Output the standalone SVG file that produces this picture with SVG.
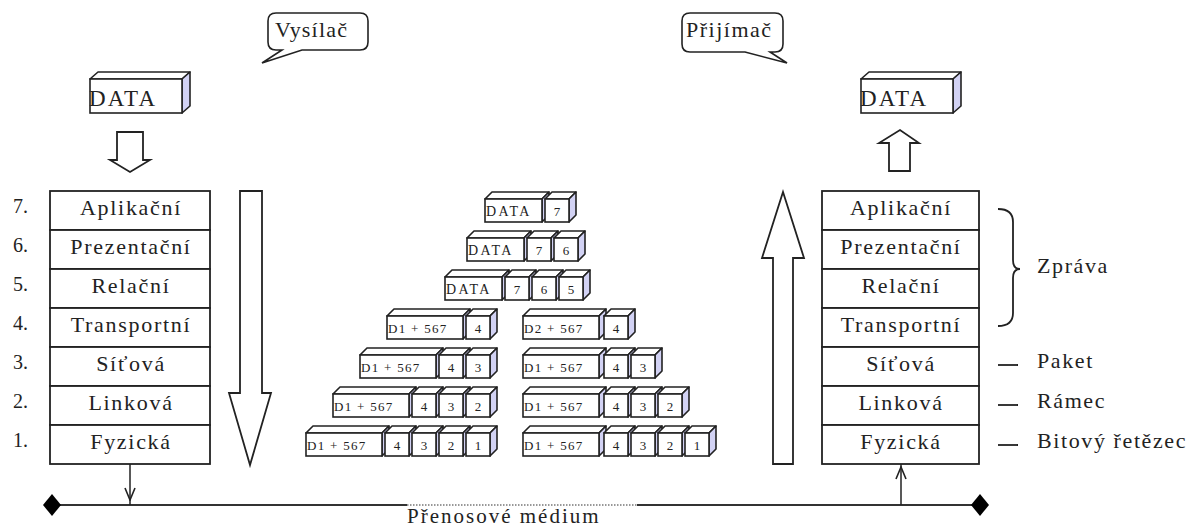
<svg xmlns="http://www.w3.org/2000/svg" xmlns:xlink="http://www.w3.org/1999/xlink" width="1200" height="529" viewBox="0 0 1200 529">
<style>
text{font-family:"Liberation Serif","Times New Roman",serif;fill:#222}
.lay{font-size:22px;letter-spacing:1.7px;text-anchor:middle}
.num{font-size:20px}
.lbl{font-size:22px;letter-spacing:1.6px}
.bx{font-size:13px;letter-spacing:1.3px}
.bn{font-size:13px;text-anchor:middle}
.dt{font-size:14px;letter-spacing:2.4px}
.box{fill:#fff;stroke:#222;stroke-width:1.6}
.side{fill:#d2d2f4;stroke:#222;stroke-width:1.6;stroke-linejoin:round}
.top{fill:#fff;stroke:#222;stroke-width:1.6;stroke-linejoin:round}
.hol{fill:#fff;stroke:#222;stroke-width:1.8;stroke-linejoin:miter}
.ln{stroke:#222;stroke-width:1.8;fill:none}
.row{fill:#fff;stroke:#222;stroke-width:1.8}
</style>
<defs>
<g id="sb"><path class="top" d="M0,0 L7,-7 L31,-7 L24,0 Z"/><path class="side" d="M24,0 L31,-7 L31,16 L24,23 Z"/><rect class="box" width="24" height="23"/></g>
<g id="db"><path class="top" d="M0,0 L7,-7 L83,-7 L76,0 Z"/><path class="side" d="M76,0 L83,-7 L83,16 L76,23 Z"/><rect class="box" width="76" height="23"/></g>
<g id="tb"><path class="top" d="M0,0 L7,-7 L64,-7 L57,0 Z"/><path class="side" d="M57,0 L64,-7 L64,16 L57,23 Z"/><rect class="box" width="57" height="23"/></g>
<g id="bb"><path class="top" d="M0,0 L8,-7 L100,-7 L92,0 Z"/><path class="side" d="M92,0 L100,-7 L100,27 L92,34 Z"/><rect class="box" width="92" height="34"/></g>
<marker id="vhead" viewBox="0 0 14 12" refX="13" refY="6" markerWidth="14" markerHeight="12" markerUnits="userSpaceOnUse" orient="auto">
<path d="M1,1 L13,6 L1,11" fill="none" stroke="#222" stroke-width="1.6"/></marker>
</defs>

<g id="bubble-vysilac">
<path d="M276,13 H360 Q368,13 368,21 V42 Q368,50 360,50 H302 L262,63 L282,50 H276 Q268,50 268,42 V21 Q268,13 276,13 Z" fill="#fff" stroke="#222" stroke-width="1.6"/>
<text x="275" y="37" style="font-size:22px;letter-spacing:1.2px">Vysílač</text>
</g>
<g id="bubble-prijimac">
<path d="M690,13 H775 Q783,13 783,21 V44 Q783,52 775,52 H770 L787,63 L745,52 H690 Q682,52 682,44 V21 Q682,13 690,13 Z" fill="#fff" stroke="#222" stroke-width="1.6"/>
<text x="686" y="37" style="font-size:22px;letter-spacing:1.5px">Přijímač</text>
</g>

<g id="data-send">
<use xlink:href="#bb" x="90" y="79"/>
<text x="89" y="106" style="font-size:23px;letter-spacing:2.2px">DATA</text>
</g>
<g id="data-recv">
<use xlink:href="#bb" x="861" y="79"/>
<text x="860" y="106" style="font-size:23px;letter-spacing:2.2px">DATA</text>
</g>

<g id="arrows">
<path class="hol" d="M117,132 H143 V160 H150 L130,172 L110,160 H117 Z"/>
<path class="hol" d="M889,171 H910 V143 H919 L900,130 L879,143 H889 Z"/>
<path class="hol" d="M240,191 H262 V393 H271 L250,465 L229,393 H240 Z"/>
<path class="hol" d="M773,464 H793 V258 H804 L783,192 L762,258 H773 Z"/>
</g>

<g id="stack-left">
<g id="l7"><rect class="row" x="50" y="191" width="160" height="39"/><text class="num" x="13" y="213">7.</text><text class="lay" x="131" y="215">Aplikační</text></g>
<g id="l6"><rect class="row" x="50" y="230" width="160" height="39"/><text class="num" x="13" y="252">6.</text><text class="lay" x="131" y="254">Prezentační</text></g>
<g id="l5"><rect class="row" x="50" y="269" width="160" height="39"/><text class="num" x="13" y="291">5.</text><text class="lay" x="131" y="293">Relační</text></g>
<g id="l4"><rect class="row" x="50" y="308" width="160" height="39"/><text class="num" x="13" y="330">4.</text><text class="lay" x="131" y="332">Transportní</text></g>
<g id="l3"><rect class="row" x="50" y="347" width="160" height="39"/><text class="num" x="13" y="369">3.</text><text class="lay" x="131" y="371">Síťová</text></g>
<g id="l2"><rect class="row" x="50" y="386" width="160" height="39"/><text class="num" x="13" y="408">2.</text><text class="lay" x="131" y="410">Linková</text></g>
<g id="l1"><rect class="row" x="50" y="425" width="160" height="39"/><text class="num" x="13" y="447">1.</text><text class="lay" x="131" y="449">Fyzická</text></g>
</g>

<g id="stack-right">
<g id="r7"><rect class="row" x="822" y="191" width="157" height="39"/><text class="lay" x="901" y="215">Aplikační</text></g>
<g id="r6"><rect class="row" x="822" y="230" width="157" height="39"/><text class="lay" x="901" y="254">Prezentační</text></g>
<g id="r5"><rect class="row" x="822" y="269" width="157" height="39"/><text class="lay" x="901" y="293">Relační</text></g>
<g id="r4"><rect class="row" x="822" y="308" width="157" height="39"/><text class="lay" x="901" y="332">Transportní</text></g>
<g id="r3"><rect class="row" x="822" y="347" width="157" height="39"/><text class="lay" x="901" y="371">Síťová</text></g>
<g id="r2"><rect class="row" x="822" y="386" width="157" height="39"/><text class="lay" x="901" y="410">Linková</text></g>
<g id="r1"><rect class="row" x="822" y="425" width="157" height="39"/><text class="lay" x="901" y="449">Fyzická</text></g>
</g>

<g id="units">
<path class="ln" d="M998,209 Q1013,209 1013,222 V260 Q1013,269 1020,269 Q1013,269 1013,278 V313 Q1013,326 998,326"/>
<text class="lbl" x="1037" y="273">Zpráva</text>
<line class="ln" x1="998" y1="365" x2="1018" y2="365"/>
<text class="lbl" x="1037" y="368">Paket</text>
<line class="ln" x1="998" y1="405" x2="1018" y2="405"/>
<text class="lbl" x="1037" y="408">Rámec</text>
<line class="ln" x1="998" y1="445" x2="1018" y2="445"/>
<text class="lbl" x="1037" y="448">Bitový řetězec</text>
</g>

<g id="pdu-r1">
<use xlink:href="#tb" x="485" y="199"/><text class="dt" x="486" y="216">DATA</text>
<use xlink:href="#sb" x="545" y="199"/><text class="bn" x="557" y="216">7</text>
</g>
<g id="pdu-r2">
<use xlink:href="#tb" x="467" y="238"/><text class="dt" x="468" y="255">DATA</text>
<use xlink:href="#sb" x="527" y="238"/><text class="bn" x="539" y="255">7</text>
<use xlink:href="#sb" x="554" y="238"/><text class="bn" x="566" y="255">6</text>
</g>
<g id="pdu-r3">
<use xlink:href="#tb" x="445" y="277"/><text class="dt" x="446" y="294">DATA</text>
<use xlink:href="#sb" x="505" y="277"/><text class="bn" x="517" y="294">7</text>
<use xlink:href="#sb" x="532" y="277"/><text class="bn" x="544" y="294">6</text>
<use xlink:href="#sb" x="559" y="277"/><text class="bn" x="571" y="294">5</text>
</g>
<g id="pdu-r4">
<use xlink:href="#db" x="387" y="316"/><text class="bx" x="388" y="333">D1 + 567</text>
<use xlink:href="#sb" x="466" y="316"/><text class="bn" x="478" y="333">4</text>
<use xlink:href="#db" x="523" y="316"/><text class="bx" x="524" y="333">D2 + 567</text>
<use xlink:href="#sb" x="604" y="316"/><text class="bn" x="616" y="333">4</text>
</g>
<g id="pdu-r5">
<use xlink:href="#db" x="360" y="355"/><text class="bx" x="361" y="372">D1 + 567</text>
<use xlink:href="#sb" x="439" y="355"/><text class="bn" x="451" y="372">4</text>
<use xlink:href="#sb" x="466" y="355"/><text class="bn" x="478" y="372">3</text>
<use xlink:href="#db" x="523" y="355"/><text class="bx" x="524" y="372">D1 + 567</text>
<use xlink:href="#sb" x="604" y="355"/><text class="bn" x="616" y="372">4</text>
<use xlink:href="#sb" x="631" y="355"/><text class="bn" x="643" y="372">3</text>
</g>
<g id="pdu-r6">
<use xlink:href="#db" x="333" y="394"/><text class="bx" x="334" y="411">D1 + 567</text>
<use xlink:href="#sb" x="412" y="394"/><text class="bn" x="424" y="411">4</text>
<use xlink:href="#sb" x="439" y="394"/><text class="bn" x="451" y="411">3</text>
<use xlink:href="#sb" x="466" y="394"/><text class="bn" x="478" y="411">2</text>
<use xlink:href="#db" x="523" y="394"/><text class="bx" x="524" y="411">D1 + 567</text>
<use xlink:href="#sb" x="604" y="394"/><text class="bn" x="616" y="411">4</text>
<use xlink:href="#sb" x="631" y="394"/><text class="bn" x="643" y="411">3</text>
<use xlink:href="#sb" x="658" y="394"/><text class="bn" x="670" y="411">2</text>
</g>
<g id="pdu-r7">
<use xlink:href="#db" x="306" y="433"/><text class="bx" x="307" y="450">D1 + 567</text>
<use xlink:href="#sb" x="385" y="433"/><text class="bn" x="397" y="450">4</text>
<use xlink:href="#sb" x="412" y="433"/><text class="bn" x="424" y="450">3</text>
<use xlink:href="#sb" x="439" y="433"/><text class="bn" x="451" y="450">2</text>
<use xlink:href="#sb" x="466" y="433"/><text class="bn" x="478" y="450">1</text>
<use xlink:href="#db" x="523" y="433"/><text class="bx" x="524" y="450">D1 + 567</text>
<use xlink:href="#sb" x="604" y="433"/><text class="bn" x="616" y="450">4</text>
<use xlink:href="#sb" x="631" y="433"/><text class="bn" x="643" y="450">3</text>
<use xlink:href="#sb" x="658" y="433"/><text class="bn" x="670" y="450">2</text>
<use xlink:href="#sb" x="685" y="433"/><text class="bn" x="697" y="450">1</text>
</g>

<g id="medium">
<line x1="52" y1="505" x2="407" y2="505" stroke="#333" stroke-width="2"/>
<line x1="407" y1="505" x2="637" y2="505" stroke="#777" stroke-width="1.6" stroke-dasharray="1.5 1.5"/>
<line x1="637" y1="505" x2="980" y2="505" stroke="#333" stroke-width="2"/>
<polygon points="52,494 61,505 52,516 43,505" fill="#000"/>
<polygon points="980,494 989,505 980,516 971,505" fill="#000"/>
<text x="407" y="523" style="font-size:21px;letter-spacing:2px">Přenosové médium</text>
</g>

<g id="connectors">
<line class="ln" x1="130" y1="464" x2="130" y2="500" marker-end="url(#vhead)" style="stroke-width:1.5"/>
<line x1="130" y1="498" x2="130" y2="505" stroke="#222" stroke-width="1.5"/>
<line class="ln" x1="901" y1="505" x2="901" y2="467" marker-end="url(#vhead)" style="stroke-width:1.5"/>
<line x1="901" y1="467" x2="901" y2="464" stroke="#222" stroke-width="1.5"/>
</g>
</svg>
